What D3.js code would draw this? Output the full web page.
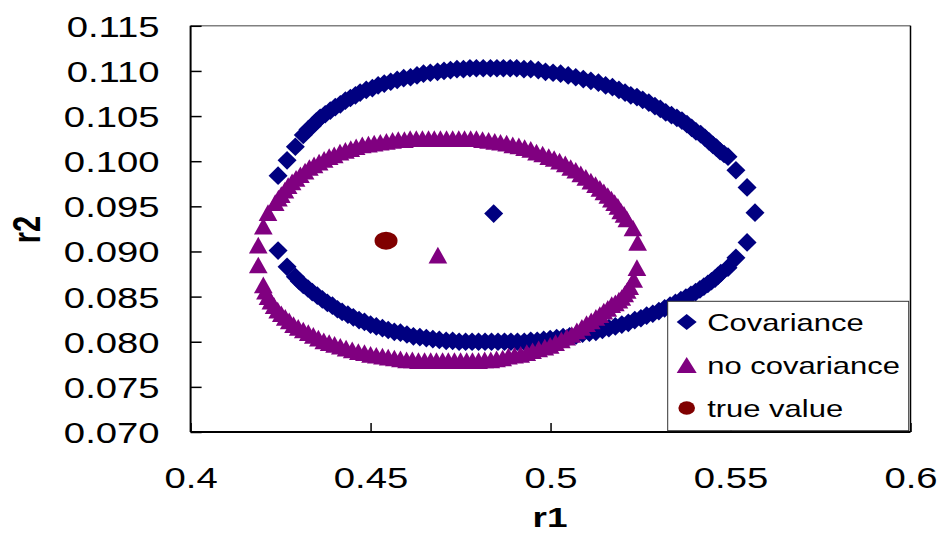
<!DOCTYPE html>
<html>
<head>
<meta charset="utf-8">
<script src="https://cdn.jsdelivr.net/npm/d3@7"></script>
<style>
body { margin: 0; background: #fff; }
text { font-family: Arial, "Liberation Sans", sans-serif; fill: #000; }
</style>
</head>
<body>
<svg width="940" height="535"></svg>
<script>
"use strict";

const xTicks = [0.4, 0.45, 0.5, 0.55, 0.6];
const yTicks = [0.070, 0.075, 0.080, 0.085, 0.090, 0.095, 0.100, 0.105, 0.110, 0.115];

// Covariance ellipse (r1, r2)
const covUpper = [
    [0.4243,0.0984],[0.4268,0.1001],[0.4291,0.1016],[0.4313,0.1029],[0.4326,0.1035],[0.4338,0.1039],
    [0.4349,0.1044],[0.4360,0.1048],[0.4374,0.1052],[0.4388,0.1056],[0.4402,0.1060],[0.4416,0.1063],
    [0.4430,0.1067],[0.4444,0.1070],[0.4458,0.1073],[0.4471,0.1076],[0.4488,0.1079],[0.4505,0.1081],
    [0.4521,0.1084],[0.4538,0.1086],[0.4556,0.1088],[0.4574,0.1090],[0.4592,0.1092],[0.4611,0.1093],
    [0.4629,0.1095],[0.4647,0.1097],[0.4666,0.1098],[0.4686,0.1099],[0.4704,0.1100],[0.4722,0.1101],
    [0.4740,0.1102],[0.4758,0.1102],[0.4776,0.1103],[0.4794,0.1103],[0.4813,0.1103],[0.4833,0.1103],
    [0.4851,0.1103],[0.4869,0.1103],[0.4888,0.1103],[0.4906,0.1103],[0.4926,0.1102],[0.4945,0.1102],
    [0.4966,0.1101],[0.4986,0.1099],[0.5007,0.1098],[0.5028,0.1097],[0.5049,0.1095],[0.5070,0.1093],
    [0.5091,0.1091],[0.5112,0.1089],[0.5133,0.1087],[0.5153,0.1084],[0.5172,0.1082],[0.5190,0.1079],
    [0.5207,0.1076],[0.5223,0.1073],[0.5240,0.1071],[0.5256,0.1068],[0.5273,0.1065],[0.5290,0.1061],
    [0.5305,0.1058],[0.5320,0.1054],[0.5336,0.1051],[0.5351,0.1048],[0.5365,0.1045],[0.5379,0.1041],
    [0.5392,0.1037],[0.5404,0.1033],[0.5417,0.1030],[0.5429,0.1026],[0.5440,0.1022],[0.5451,0.1018],
    [0.5461,0.1015],[0.5471,0.1011],[0.5482,0.1008],[0.5493,0.1005],[0.5515,0.0990],[0.5546,0.0971],
    [0.5568,0.0943]
];
const covLower = [
    [0.4243,0.0901],[0.4268,0.0883],[0.4291,0.0872],[0.4302,0.0867],[0.4313,0.0863],[0.4326,0.0859],
    [0.4338,0.0855],[0.4352,0.0851],[0.4366,0.0847],[0.4380,0.0843],[0.4394,0.0840],[0.4408,0.0836],
    [0.4421,0.0833],[0.4437,0.0830],[0.4452,0.0827],[0.4468,0.0824],[0.4483,0.0822],[0.4500,0.0819],
    [0.4516,0.0817],[0.4533,0.0815],[0.4549,0.0813],[0.4566,0.0811],[0.4583,0.0810],[0.4601,0.0808],
    [0.4619,0.0806],[0.4637,0.0805],[0.4655,0.0804],[0.4673,0.0803],[0.4691,0.0802],[0.4710,0.0801],
    [0.4728,0.0801],[0.4746,0.0800],[0.4764,0.0800],[0.4782,0.0800],[0.4800,0.0800],[0.4818,0.0800],
    [0.4836,0.0800],[0.4854,0.0800],[0.4872,0.0800],[0.4890,0.0800],[0.4908,0.0800],[0.4927,0.0800],
    [0.4945,0.0801],[0.4963,0.0801],[0.4981,0.0802],[0.4999,0.0803],[0.5017,0.0804],[0.5035,0.0805],
    [0.5053,0.0806],[0.5071,0.0807],[0.5089,0.0809],[0.5108,0.0810],[0.5126,0.0811],[0.5144,0.0813],
    [0.5162,0.0815],[0.5180,0.0817],[0.5198,0.0819],[0.5216,0.0821],[0.5234,0.0824],[0.5251,0.0826],
    [0.5267,0.0829],[0.5284,0.0831],[0.5301,0.0834],[0.5317,0.0837],[0.5332,0.0840],[0.5347,0.0843],
    [0.5362,0.0846],[0.5376,0.0849],[0.5390,0.0852],[0.5403,0.0855],[0.5415,0.0858],[0.5426,0.0861],
    [0.5437,0.0864],[0.5447,0.0867],[0.5457,0.0870],[0.5465,0.0873],[0.5473,0.0876],[0.5493,0.0882],
    [0.5515,0.0893],[0.5546,0.0910]
];
const covCenter = [[0.4842,0.0942]];

// no covariance ellipse
const noCovUpper = [
    [0.4188,0.0907],[0.4202,0.0928],[0.4215,0.0943],[0.4235,0.0954],[0.4244,0.0959],[0.4252,0.0963],
    [0.4262,0.0968],[0.4271,0.0973],[0.4282,0.0977],[0.4293,0.0981],[0.4305,0.0985],[0.4318,0.0989],
    [0.4330,0.0993],[0.4343,0.0996],[0.4357,0.0999],[0.4371,0.1002],[0.4385,0.1005],[0.4399,0.1007],
    [0.4415,0.1010],[0.4430,0.1012],[0.4445,0.1014],[0.4460,0.1016],[0.4477,0.1018],[0.4494,0.1019],
    [0.4510,0.1020],[0.4527,0.1021],[0.4544,0.1022],[0.4561,0.1023],[0.4577,0.1024],[0.4594,0.1024],
    [0.4610,0.1025],[0.4627,0.1025],[0.4644,0.1025],[0.4661,0.1025],[0.4677,0.1025],[0.4694,0.1025],
    [0.4711,0.1025],[0.4728,0.1025],[0.4745,0.1025],[0.4761,0.1025],[0.4778,0.1025],[0.4794,0.1025],
    [0.4811,0.1024],[0.4828,0.1023],[0.4845,0.1022],[0.4861,0.1021],[0.4878,0.1020],[0.4895,0.1018],
    [0.4912,0.1017],[0.4928,0.1015],[0.4945,0.1013],[0.4961,0.1010],[0.4978,0.1008],[0.4995,0.1005],
    [0.5010,0.1003],[0.5025,0.1000],[0.5041,0.0997],[0.5056,0.0993],[0.5070,0.0990],[0.5084,0.0986],
    [0.5098,0.0982],[0.5112,0.0978],[0.5125,0.0974],[0.5137,0.0970],[0.5148,0.0966],[0.5159,0.0962],
    [0.5169,0.0958],[0.5178,0.0954],[0.5187,0.0950],[0.5195,0.0945],[0.5204,0.0941],[0.5212,0.0936],
    [0.5229,0.0926],[0.5242,0.0910]
];
const noCovLower = [
    [0.4188,0.0885],[0.4202,0.0863],[0.4208,0.0856],[0.4215,0.0850],[0.4223,0.0845],[0.4232,0.0840],
    [0.4242,0.0835],[0.4252,0.0831],[0.4263,0.0827],[0.4274,0.0823],[0.4286,0.0819],[0.4299,0.0816],
    [0.4313,0.0813],[0.4327,0.0810],[0.4341,0.0807],[0.4355,0.0804],[0.4370,0.0801],[0.4385,0.0799],
    [0.4400,0.0797],[0.4416,0.0795],[0.4432,0.0793],[0.4449,0.0791],[0.4466,0.0789],[0.4483,0.0788],
    [0.4500,0.0786],[0.4516,0.0785],[0.4533,0.0784],[0.4549,0.0783],[0.4566,0.0782],[0.4583,0.0781],
    [0.4600,0.0780],[0.4616,0.0780],[0.4633,0.0779],[0.4650,0.0779],[0.4667,0.0779],[0.4683,0.0779],
    [0.4700,0.0779],[0.4716,0.0779],[0.4733,0.0779],[0.4750,0.0779],[0.4767,0.0779],[0.4783,0.0779],
    [0.4800,0.0779],[0.4817,0.0780],[0.4834,0.0780],[0.4850,0.0781],[0.4867,0.0782],[0.4883,0.0784],
    [0.4900,0.0785],[0.4917,0.0786],[0.4934,0.0788],[0.4950,0.0790],[0.4967,0.0792],[0.4984,0.0794],
    [0.4999,0.0796],[0.5014,0.0799],[0.5030,0.0802],[0.5045,0.0805],[0.5059,0.0808],[0.5073,0.0812],
    [0.5087,0.0816],[0.5100,0.0820],[0.5113,0.0823],[0.5126,0.0827],[0.5137,0.0830],[0.5148,0.0834],
    [0.5159,0.0837],[0.5170,0.0841],[0.5180,0.0843],[0.5190,0.0846],[0.5198,0.0849],[0.5206,0.0853],
    [0.5213,0.0857],[0.5220,0.0861],[0.5231,0.0869],[0.5240,0.0882]
];
const noCovCenter = [[0.4687,0.0896]];

const trueValue = [[0.4543,0.0912]];

const legendLabels = ["Covariance", "no covariance", "true value"];

const NAVY = "#000080", PURPLE = "#800080", DARKRED = "#800000";
const STRETCH = 1.32;   // picture text is wider than tall

const plotLeft = 190.6, plotRight = 910.5, plotTop = 25.8, plotBottom = 432;

function diamond(w, h) {
    return `M0,${-h / 2}L${w / 2},0L0,${h / 2}L${-w / 2},0Z`;
}
function triangle(w, h) {
    return `M0,${-h / 2}L${w / 2},${h / 2}L${-w / 2},${h / 2}Z`;
}

function init() {
    const svg = d3.select("svg");

    const x = d3.scaleLinear().domain([0.4, 0.6]).range([plotLeft, plotRight]);
    const y = d3.scaleLinear().domain([0.070, 0.115]).range([plotBottom, plotTop]);

    // plot frame, top and right
    svg.append("line").attr("x1", plotLeft).attr("x2", plotRight).attr("y1", plotTop).attr("y2", plotTop)
        .attr("stroke", "#808080").attr("stroke-width", 1.5);
    svg.append("line").attr("x1", plotRight).attr("x2", plotRight).attr("y1", plotTop).attr("y2", plotBottom)
        .attr("stroke", "#000").attr("stroke-width", 1.5);

    const gy = svg.append("g")
        .attr("transform", `translate(${plotLeft},0)`)
        .call(d3.axisLeft(y).tickValues(yTicks).tickSize(-11).tickFormat(d3.format(".3f")));
    gy.select(".domain").attr("stroke", "#000").attr("stroke-width", 2).attr("d", `M0,${plotTop}V${plotBottom}`);
    gy.selectAll(".tick line").attr("stroke", "#000").attr("stroke-width", 1.5);
    gy.selectAll(".tick text")
        .attr("x", null).attr("dy", null)
        .attr("font-size", 29)
        .attr("text-anchor", "end")
        .attr("transform", `translate(-31,10.5) scale(${STRETCH},1)`);

    const gx = svg.append("g")
        .attr("transform", `translate(0,${plotBottom})`)
        .call(d3.axisBottom(x).tickValues(xTicks).tickSize(-9).tickFormat(d => String(d)));
    gx.select(".domain").attr("stroke", "#000").attr("stroke-width", 2).attr("d", `M${plotLeft},0H${plotRight}`);
    gx.selectAll(".tick line").attr("stroke", "#000").attr("stroke-width", 1.5);
    gx.selectAll(".tick text")
        .attr("y", null).attr("dy", null)
        .attr("font-size", 29)
        .attr("text-anchor", "middle")
        .attr("transform", `translate(0,56) scale(${STRETCH},1)`);

    // series, drawn in legend order
    const pos = d => `translate(${x(d[0])},${y(d[1])})`;
    const plot = svg.append("g");

    plot.selectAll("path.cov")
        .data(covCenter.concat(covUpper, covLower))
        .join("path")
        .attr("class", "cov")
        .attr("transform", pos)
        .attr("d", diamond(19, 18.7))
        .attr("fill", NAVY);

    plot.selectAll("path.nocov")
        .data(noCovCenter.concat(noCovUpper, noCovLower))
        .join("path")
        .attr("class", "nocov")
        .attr("transform", pos)
        .attr("d", triangle(18.7, 16.7))
        .attr("fill", PURPLE);

    plot.selectAll("ellipse.truth")
        .data(trueValue)
        .join("ellipse")
        .attr("class", "truth")
        .attr("cx", d => x(d[0]))
        .attr("cy", d => y(d[1]))
        .attr("rx", 11.5).attr("ry", 9)
        .attr("fill", DARKRED);

    // legend
    const lg = svg.append("g");
    lg.append("rect")
        .attr("x", 667.7).attr("y", 301.3).attr("width", 241).attr("height", 129.4)
        .attr("fill", "#fff").attr("stroke", "#333").attr("stroke-width", 1);

    const rows = lg.selectAll("g.row")
        .data(legendLabels)
        .join("g")
        .attr("class", "row")
        .attr("transform", (d, i) => `translate(686.7,${322 + i * 43})`);

    rows.filter((d, i) => i === 0).append("path").attr("d", diamond(20, 16)).attr("fill", NAVY);
    rows.filter((d, i) => i === 1).append("path").attr("d", triangle(20, 16)).attr("fill", PURPLE);
    rows.filter((d, i) => i === 2).append("ellipse").attr("rx", 8.3).attr("ry", 6.7).attr("fill", DARKRED);

    rows.append("text")
        .attr("transform", "translate(20.5,8.7) scale(1.29,1)")
        .attr("font-size", 24)
        .text(d => d);

    // axis titles
    svg.append("text")
        .attr("transform", `translate(550,527) scale(${STRETCH},1)`)
        .attr("text-anchor", "middle")
        .attr("font-size", 28)
        .attr("font-weight", "bold")
        .text("r1");

    svg.append("text")
        .attr("transform", `translate(40,229.5) scale(${STRETCH},1) rotate(-90)`)
        .attr("text-anchor", "middle")
        .attr("font-size", 29)
        .attr("font-weight", "bold")
        .text("r2");
}

window.addEventListener("load", init);
</script>
</body>
</html>
